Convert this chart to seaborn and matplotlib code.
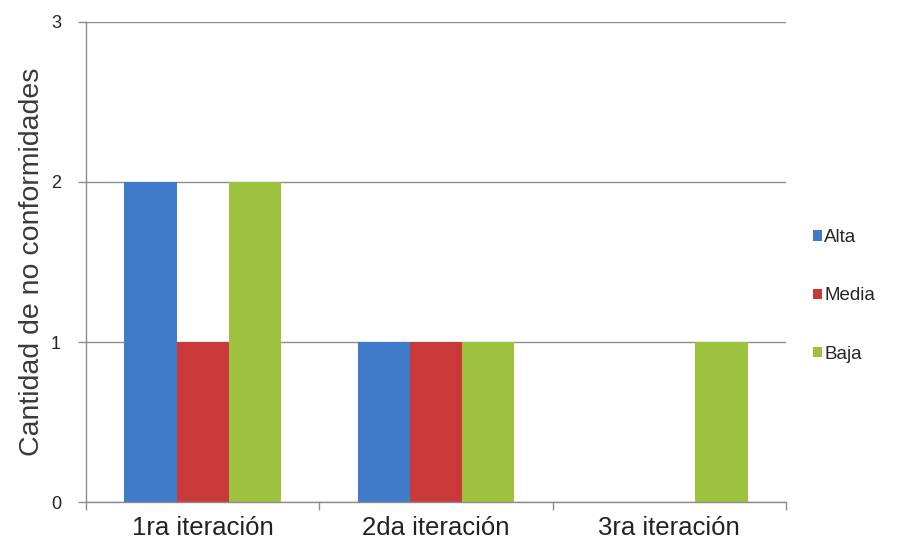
import pandas as pd
import matplotlib.pyplot as plt
import seaborn as sns
from matplotlib.ticker import FixedLocator

# datos del grafico
iteraciones = ["1ra iteración", "2da iteración", "3ra iteración"]
alta = [2, 1, 0]
media = [1, 1, 0]
baja = [2, 1, 1]
niveles = ["Alta", "Media", "Baja"]
colores = ["#3F7BC9", "#C9393A", "#9DC23F"]

df = pd.DataFrame({
    "Iteracion": iteraciones * 3,
    "Nivel": [n for n in niveles for _ in iteraciones],
    "Cantidad": alta + media + baja,
})

sns.set_style("white")
plt.rcParams["font.family"] = ["Liberation Sans", "DejaVu Sans"]

fig = plt.figure(figsize=(9.11, 5.48), dpi=100)
ax = fig.add_axes([0.0944, 0.0839, 0.7684, 0.876])

sns.barplot(data=df, x="Iteracion", y="Cantidad", hue="Nivel",
            palette=colores, width=0.67, ax=ax, legend=True,
            edgecolor="none", saturation=1)

ax.set_ylim(0, 3)
ax.set_xlim(-0.5, 2.5)
ax.set_yticks([0, 1, 2, 3])
ax.yaxis.grid(True, color="#8c8c8c", linewidth=1)
ax.set_axisbelow(True)
ax.set_xlabel("")
ax.set_ylabel("Cantidad de no conformidades", fontsize=20.5, color="#3a3a3a", labelpad=4)

for s in ["top", "right"]:
    ax.spines[s].set_visible(False)
for s in ["left", "bottom"]:
    ax.spines[s].set_color("#8c8c8c")
    ax.spines[s].set_linewidth(1)

ax.tick_params(axis="y", left=True, length=6, width=1, color="#8c8c8c", labelsize=13, pad=12)
ax.tick_params(axis="x", which="major", bottom=False, length=0, labelsize=18.5, pad=10,
               labelcolor="#222222")
ax.xaxis.set_minor_locator(FixedLocator([-0.5, 0.5, 1.5, 2.5]))
ax.tick_params(axis="x", which="minor", bottom=True, length=6, width=1, color="#8c8c8c",
               direction="out")

handles, labels = ax.get_legend_handles_labels()
ax.get_legend().remove()
fig.legend(handles, labels, loc="center left", bbox_to_anchor=(0.874, 0.46),
           frameon=False, fontsize=13.5, handlelength=0.45, handleheight=0.45,
           handletextpad=0.15, labelspacing=2.2)

plt.savefig("out.png", dpi=100)
